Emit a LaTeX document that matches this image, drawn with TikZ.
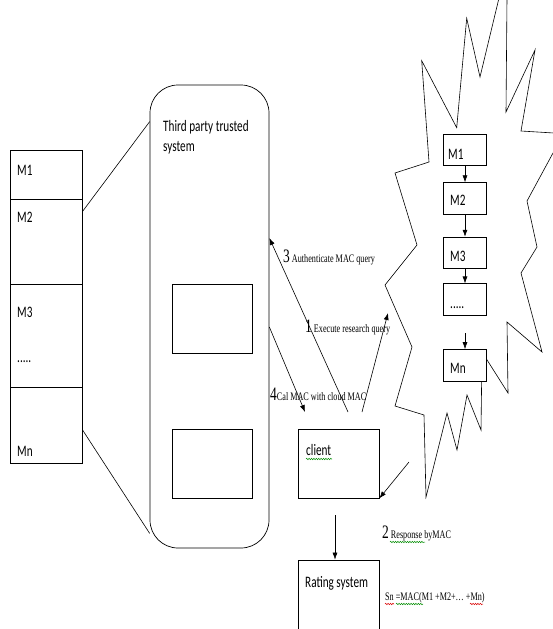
\documentclass[tikz,border=0pt]{standalone}
\usepackage{fontspec}
\setmainfont{Liberation Serif}[FakeStretch=0.71]
\newfontfamily\calfont{Carlito}[FakeStretch=0.7]
\usetikzlibrary{positioning,arrows.meta,decorations.pathmorphing}

\tikzset{
	box/.style={draw, line width=0.7pt, fill=white, inner sep=0pt},
	lbl/.style={anchor=base west, inner sep=0pt, font=\calfont\fontsize{16}{18}\selectfont},
	tlbl/.style={anchor=base west, inner sep=0pt, font=\fontsize{11.5}{13}\selectfont},
	arr/.style={-{Latex[length=7pt,width=5pt]}, line width=0.6pt},
	spellg/.style={draw=green!55!black, line width=0.5pt, decorate,
		decoration={snake, amplitude=0.7pt, segment length=2.4pt}},
	spellr/.style={spellg, draw=red!85!black}
}
\newcommand{\bigdigit}[1]{{\fontsize{19}{20}\selectfont #1}}

\begin{document}
\begin{tikzpicture}[x=1pt, y=-1pt]
		
		\clip (0,0) rectangle (553,629);
		
		% stored records on the left
		\node[box, minimum width=72pt, minimum height=49pt] (m1) at (46,174.5) {};
		\node[box, minimum width=72pt, minimum height=85pt] (m2) at (46,241.5) {};
		\node[box, minimum width=72pt, minimum height=103pt] (m3) at (46,335.5) {};
		\node[box, minimum width=72pt, minimum height=76pt] (mn) at (46,425) {};
		
		\node[lbl] (tm1) at (17,175) {M1};
		\node[lbl] (tm2) at (17,222.5) {M2};
		\node[lbl] (tm3) at (17,317) {M3};
		\node[lbl] (tdots) at (17,362.5) {.....};
		\node[lbl] (tmn) at (17,456) {Mn};
		
		% third party trusted system
		\node[box, rounded corners=28pt, minimum width=119pt, minimum height=463pt] (tts) at (209.5,316.5) {};
		\node[lbl] (tt1) at (163,131) {Third party trusted};
		\node[lbl] (tt2) at (163,151) {system};
		\node[box, minimum width=80pt, minimum height=69pt] (ib1) at (212,318.5) {};
		\node[box, minimum width=80pt, minimum height=69pt] (ib2) at (212,463.5) {};
		
		\draw[line width=0.6pt] ([yshift=-13pt]m2.north east) -- ([yshift=-37pt]tts.north west);
		\draw[line width=0.6pt] ([yshift=-43pt]mn.north east) -- ([yshift=15pt]tts.south west);
		
		% cloud
		\draw[line width=0.6pt, line join=miter]
		(421.7,60.7) -- (456.7,127.7) -- (466.7,18.3) -- (480,77) -- (499,-2) -- (507,-2)
		-- (506,112) -- (535,50) -- (521,131) -- (570,134) -- (570,150) -- (553,153)
		-- (527,201) -- (537,247) -- (521,273) -- (542,352) -- (507,322) -- (508,393)
		-- (482,352) -- (481,430) -- (467,395) -- (457,450) -- (447,413) -- (426,497)
		-- (424,415) -- (395,406) -- (412,347) -- (385,285) -- (417,245) -- (395,173)
		-- (429,162) -- cycle;
		
		\node[box, minimum width=43.4pt, minimum height=31.4pt] (s1) at (465,150) {};
		\node[box, minimum width=43.4pt, minimum height=31.4pt] (s2) at (465,198.4) {};
		\node[box, minimum width=43.4pt, minimum height=31.4pt] (s3) at (465,252.8) {};
		\node[box, minimum width=43.4pt, minimum height=31.4pt] (sd) at (465,299.5) {};
		\node[box, minimum width=43.4pt, minimum height=31.4pt] (sn) at (465,365.2) {};
		\coordinate (sgap) at (465,333);
		
		\node[lbl] (ts1) at (448,159.3) {M1};
		\node[lbl] (ts2) at (450,205.7) {M2};
		\node[lbl] (ts3) at (450,261) {M3};
		\node[lbl] (tsd) at (450,308) {.....};
		\node[lbl] (tsn) at (450,373.3) {Mn};
		
		\draw[arr] (s1) -- (s2);
		\draw[arr] (s2) -- (s3);
		\draw[arr] (s3) -- (sd);
		\draw[arr] (sgap) -- (sn);
		
		% client and rating system
		\node[box, minimum width=81pt, minimum height=69pt] (client) at (338.5,463.5) {};
		\node[lbl] (tclient) at (306,455) {client};
		\node[box, minimum width=81pt, minimum height=80pt] (rating) at (338.5,600) {};
		\node[lbl] (trating) at (305,587) {Rating system};
		
		\coordinate (a3s) at (348,412);
		\coordinate (a4e) at (305,412);
		\coordinate (a1s) at (362,412);
		\coordinate (a1e) at (388,313);
		\coordinate (a2s) at (409,462);
		\coordinate (crs) at (335,515);
		
		\draw[arr] (a3s) -- ([yshift=78.5pt]tts.east);
		\draw[arr] ([yshift=-10.5pt]tts.east) -- (a4e);
		\draw[arr] (a1s) -- (a1e);
		\draw[arr] (a2s) -- (client.south east);
		\draw[arr] (crs) -- ([xshift=-3.5pt]rating.north);
		
		\node[tlbl] (l3) at (283,262) {\bigdigit{3} Authenticate MAC query};
		\node[tlbl] (l1) at (305,332) {\bigdigit{1} Execute research query};
		\node[tlbl] (l4) at (270,400) {\bigdigit{4}Cal MAC with cloud MAC};
		\node[tlbl] (l2) at (382,538) {\bigdigit{2} Response byMAC};
		\node[tlbl] (lsn) at (385,600) {Sn =MAC(M1 +M2+… +Mn)};
		
		% spelling marks
		\draw[spellg] (306,459) -- (332,459);
		\draw[spellg] (390,542) -- (425,542);
		\draw[spellr] (385,604) -- (394,604);
		\draw[spellg] (396,604) -- (423,604);
		\draw[spellr] (470,604) -- (483,604);
		
	\end{tikzpicture}
\end{document}
